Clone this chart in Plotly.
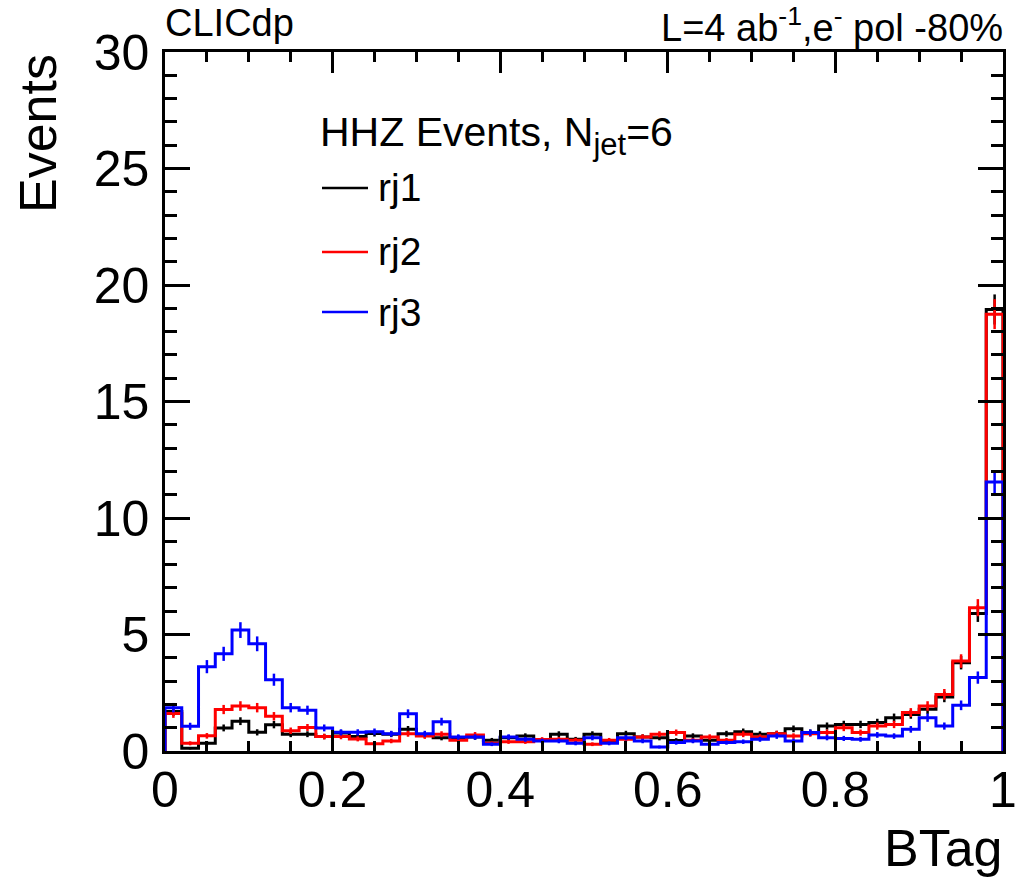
import numpy as np
import plotly.graph_objects as go

# ---- data ----
bin_edges = [round(i * 0.02, 2) for i in range(51)]
rj1 = [1.70, 0.12, 0.33, 0.99, 1.28, 0.80, 1.13, 0.72, 0.72, 0.62,
       0.77, 0.62, 0.75, 0.72, 0.93, 0.69, 0.57, 0.57, 0.60, 0.46,
       0.57, 0.64, 0.46, 0.72, 0.50, 0.72, 0.40, 0.74, 0.60, 0.57,
       0.45, 0.64, 0.46, 0.74, 0.83, 0.72, 0.74, 0.95, 0.79, 1.07,
       1.14, 1.14, 1.22, 1.43, 1.57, 1.79, 2.32, 3.79, 5.90, 18.95]
rj2 = [1.61, 0.33, 0.65, 1.78, 1.93, 1.86, 1.49, 0.87, 1.01, 0.62,
       0.62, 0.52, 0.31, 0.43, 0.74, 0.64, 0.72, 0.46, 0.69, 0.33,
       0.40, 0.40, 0.49, 0.50, 0.46, 0.29, 0.46, 0.50, 0.60, 0.72,
       0.79, 0.46, 0.60, 0.46, 0.72, 0.60, 0.74, 0.64, 0.74, 0.79,
       1.00, 0.79, 1.07, 1.14, 1.65, 1.93, 2.43, 3.86, 6.15, 18.75]
rj3 = [1.86, 1.06, 3.62, 4.17, 5.19, 4.60, 3.06, 1.86, 1.75, 0.99,
       0.80, 0.80, 0.83, 0.74, 1.60, 0.74, 1.26, 0.60, 0.60, 0.29,
       0.60, 0.50, 0.43, 0.43, 0.33, 0.57, 0.33, 0.57, 0.43, 0.17,
       0.36, 0.43, 0.29, 0.36, 0.40, 0.50, 0.64, 0.43, 0.79, 0.57,
       0.54, 0.50, 0.69, 0.64, 0.93, 1.43, 1.07, 1.96, 3.15, 11.55]
series_names = ["rj1", "rj2", "rj3"]
series_colors = ["#000000", "#ff0000", "#0000ff"]
event_weight = 0.022  # per-event weight, errors = sqrt(sum w^2)

W, H = 1017, 879
L, R, T, B = 165, 1003, 52, 751


def px(xp):
    return (xp - L) / (R - L)


def py(yp):
    return (B - yp) / (B - T)


FONT = "Liberation Sans, Arial, Helvetica, sans-serif"

fig = go.Figure()
centers = [(bin_edges[i] + bin_edges[i + 1]) / 2 for i in range(50)]
for name, vals, col in zip(series_names, [rj1, rj2, rj3], series_colors):
    xs = [bin_edges[0]] + bin_edges[:-1] + [bin_edges[-1]]
    ys = [0] + vals + [0]
    fig.add_trace(go.Scatter(x=xs, y=ys, mode="lines", line=dict(color=col, width=3, shape="hv"),
                             name=name, showlegend=False, hoverinfo="skip"))
    errs = [float(np.sqrt(event_weight * v)) for v in vals]
    fig.add_trace(go.Scatter(x=centers, y=vals, mode="markers",
                             marker=dict(size=1, color=col),
                             error_y=dict(type="data", array=errs, visible=True, color=col,
                                          thickness=2.5, width=0),
                             showlegend=False, hoverinfo="skip"))

fig.update_layout(
    width=W, height=H,
    margin=dict(l=L, r=W - R, t=T, b=H - B, autoexpand=False),
    paper_bgcolor="white", plot_bgcolor="white",
    font=dict(family=FONT, color="black"),
    showlegend=False,
)
fig.update_xaxes(range=[0, 1], showgrid=False, zeroline=False, automargin=False,
                 showline=True, linecolor="black", linewidth=2.5, mirror="ticks",
                 ticks="inside", ticklen=21, tickwidth=2.5, tickcolor="black",
                 tick0=0, dtick=0.2,
                 minor=dict(ticks="inside", ticklen=10, tickwidth=2.5, tickcolor="black", dtick=0.05, tick0=0),
                 tickfont=dict(size=50, family=FONT), ticklabelstandoff=-7)
fig.update_yaxes(range=[0, 30], showgrid=False, zeroline=False, automargin=False,
                 showline=True, linecolor="black", linewidth=2.5, mirror="ticks",
                 ticks="inside", ticklen=25, tickwidth=2.5, tickcolor="black",
                 tick0=0, dtick=5,
                 minor=dict(ticks="inside", ticklen=12, tickwidth=2.5, tickcolor="black", dtick=1, tick0=0),
                 tickfont=dict(size=50, family=FONT), ticklabelstandoff=3)

ann = []
ann.append(dict(text="Events", x=px(38), y=py(133), xref="paper", yref="paper",
                textangle=-90, showarrow=False, font=dict(size=52, family=FONT),
                xanchor="center", yanchor="middle"))
ann.append(dict(text="BTag", x=px(1005), y=py(848), xref="paper", yref="paper",
                showarrow=False, font=dict(size=52, family=FONT),
                xanchor="right", yanchor="middle"))
ann.append(dict(text="CLICdp", x=px(163), y=py(23), xref="paper", yref="paper",
                showarrow=False, font=dict(size=38, family=FONT),
                xanchor="left", yanchor="middle"))
ann.append(dict(text="L=4 ab<sup>-1</sup>,e<sup>-</sup> pol -80%", x=px(1005), y=py(25),
                xref="paper", yref="paper", showarrow=False, font=dict(size=38, family=FONT),
                xanchor="right", yanchor="middle"))
ann.append(dict(text="HHZ Events, N<sub><span style='font-size:31px'>jet</span></sub>=6",
                x=px(318), y=py(135), xref="paper", yref="paper",
                showarrow=False, font=dict(size=41, family=FONT), xanchor="left", yanchor="middle"))
leg_y = [188, 252, 312]
for name, col, yy in zip(series_names, series_colors, leg_y):
    fig.add_shape(type="line", xref="paper", yref="paper", x0=px(322), x1=px(368), y0=py(yy), y1=py(yy),
                  line=dict(color=col, width=2.5))
    ann.append(dict(text=name, x=px(376), y=py(yy), xref="paper", yref="paper",
                    showarrow=False, font=dict(size=39, family=FONT), xanchor="left", yanchor="middle"))
fig.update_layout(annotations=ann)

fig.write_html("out.html")
